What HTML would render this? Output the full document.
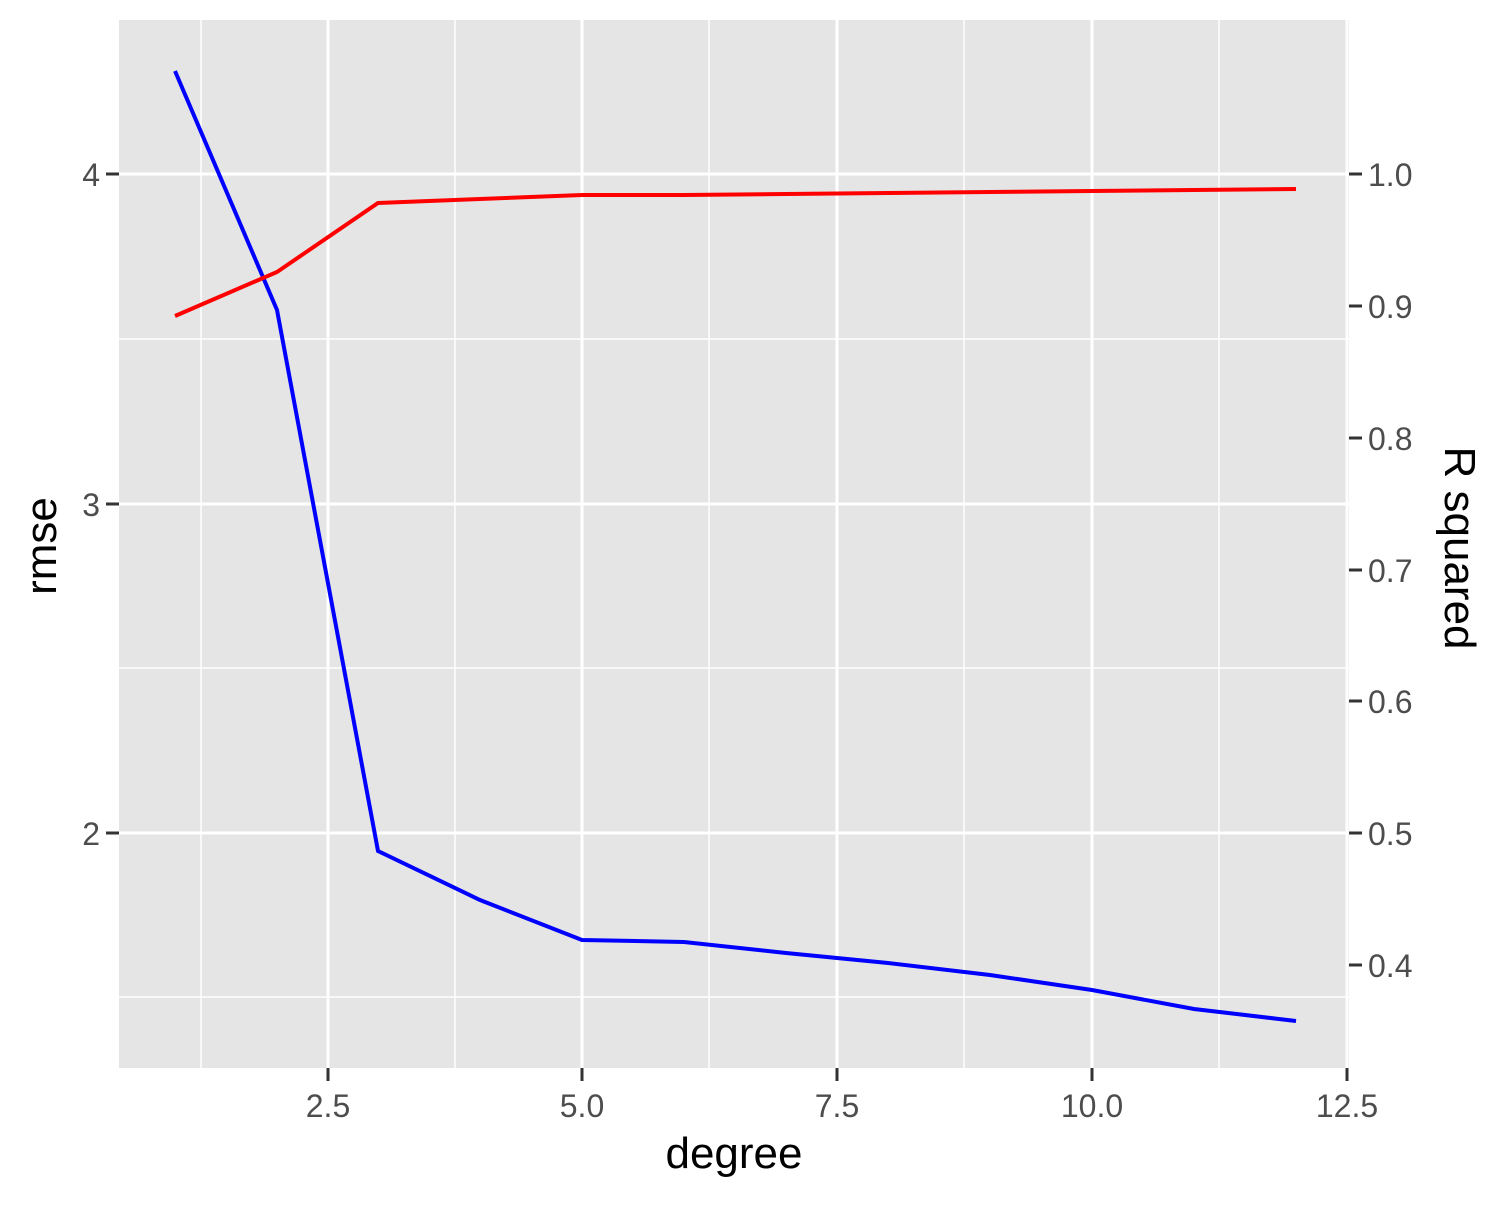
<!DOCTYPE html>
<html><head><meta charset="utf-8"><style>html,body{margin:0;padding:0;background:#fff}</style></head>
<body>
<svg width="1500" height="1200" xmlns="http://www.w3.org/2000/svg" font-family="Liberation Sans, Arial, sans-serif">
<rect width="1500" height="1200" fill="#fff"/>
<rect x="119" y="20" width="1230" height="1048" fill="#e5e5e5"/>
<g stroke="#fff" stroke-width="1.5">
<line x1="119" x2="1349" y1="339" y2="339"/><line x1="119" x2="1349" y1="668" y2="668"/><line x1="119" x2="1349" y1="997" y2="997"/>
<line x1="201" x2="201" y1="20" y2="1068"/><line x1="455" x2="455" y1="20" y2="1068"/><line x1="709" x2="709" y1="20" y2="1068"/><line x1="964" x2="964" y1="20" y2="1068"/><line x1="1219" x2="1219" y1="20" y2="1068"/>
</g>
<g stroke="#fff" stroke-width="3">
<line x1="119" x2="1349" y1="174" y2="174"/><line x1="119" x2="1349" y1="504" y2="504"/><line x1="119" x2="1349" y1="833" y2="833"/>
<line x1="328" x2="328" y1="20" y2="1068"/><line x1="582" x2="582" y1="20" y2="1068"/><line x1="837" x2="837" y1="20" y2="1068"/><line x1="1092" x2="1092" y1="20" y2="1068"/><line x1="1347" x2="1347" y1="20" y2="1068"/>
</g>
<polyline fill="none" stroke="#0000ff" stroke-width="4" points="175,71 277,310 378,851 480,900 582,940 684,942 786,953 888,963 990,975 1092,990 1194,1009 1296,1021"/>
<polyline fill="none" stroke="#ff0000" stroke-width="4" points="175,316 277,272 378,203 480,199 582,195 684,195 786,194 888,193 990,192 1092,191 1194,190 1296,189"/>
<g stroke="#333" stroke-width="3">
<line x1="106" x2="119" y1="174" y2="174"/><line x1="106" x2="119" y1="504" y2="504"/><line x1="106" x2="119" y1="833" y2="833"/>
<line x1="1349" x2="1362" y1="174" y2="174"/><line x1="1349" x2="1362" y1="306" y2="306"/><line x1="1349" x2="1362" y1="438" y2="438"/><line x1="1349" x2="1362" y1="570" y2="570"/><line x1="1349" x2="1362" y1="701" y2="701"/><line x1="1349" x2="1362" y1="833" y2="833"/><line x1="1349" x2="1362" y1="965" y2="965"/>
<line x1="328" x2="328" y1="1068" y2="1081"/><line x1="582" x2="582" y1="1068" y2="1081"/><line x1="837" x2="837" y1="1068" y2="1081"/><line x1="1092" x2="1092" y1="1068" y2="1081"/><line x1="1347" x2="1347" y1="1068" y2="1081"/>
</g>
<g fill="#4d4d4d" font-size="32">
<g text-anchor="end"><text x="100" y="186">4</text><text x="100" y="516">3</text><text x="100" y="845">2</text></g>
<g text-anchor="start"><text x="1368" y="186">1.0</text><text x="1368" y="318">0.9</text><text x="1368" y="450">0.8</text><text x="1368" y="582">0.7</text><text x="1368" y="713">0.6</text><text x="1368" y="845">0.5</text><text x="1368" y="977">0.4</text></g>
<g text-anchor="middle"><text x="328" y="1117">2.5</text><text x="582" y="1117">5.0</text><text x="837" y="1117">7.5</text><text x="1092" y="1117">10.0</text><text x="1347" y="1117">12.5</text></g>
</g>
<g fill="#000" font-size="44" text-anchor="middle">
<text x="734" y="1168">degree</text>
<text transform="translate(56,546) rotate(-90)">rmse</text>
<text transform="translate(1445,548) rotate(90)">R squared</text>
</g>
</svg>
</body></html>
